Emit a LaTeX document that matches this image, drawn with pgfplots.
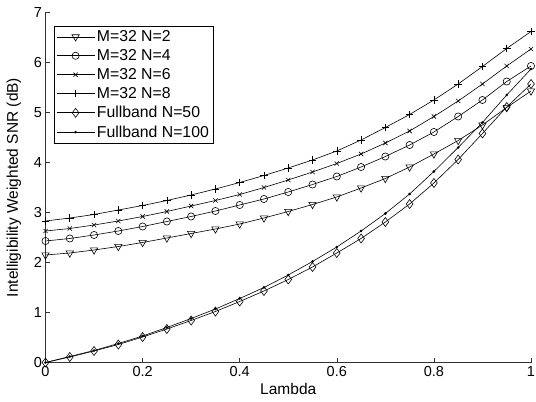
\documentclass[border=0pt]{standalone}
\usepackage{pgfplots}
\pgfplotsset{compat=1.18}
\usepackage{pgfplotstable}
\usepackage{fontspec}
\setmainfont{Liberation Sans}
\pgfplotstableread{
x    a    b    c    d    e    f
0.00 2.15 2.43 2.63 2.83 0.00 0.00
0.05 2.19 2.48 2.68 2.89 0.11 0.12
0.10 2.25 2.55 2.75 2.96 0.23 0.24
0.15 2.32 2.63 2.83 3.05 0.36 0.38
0.20 2.40 2.72 2.92 3.14 0.51 0.53
0.25 2.49 2.82 3.02 3.24 0.67 0.70
0.30 2.58 2.92 3.13 3.35 0.84 0.88
0.35 2.67 3.03 3.24 3.47 1.02 1.07
0.40 2.77 3.15 3.36 3.60 1.22 1.28
0.45 2.89 3.27 3.50 3.74 1.43 1.50
0.50 3.02 3.41 3.65 3.89 1.66 1.75
0.55 3.16 3.56 3.81 4.05 1.91 2.02
0.60 3.31 3.72 3.98 4.23 2.19 2.31
0.65 3.49 3.91 4.17 4.45 2.48 2.63
0.70 3.68 4.12 4.39 4.70 2.81 2.98
0.75 3.91 4.35 4.63 4.96 3.17 3.37
0.80 4.17 4.61 4.92 5.25 3.59 3.82
0.85 4.44 4.92 5.23 5.57 4.06 4.30
0.90 4.75 5.25 5.57 5.92 4.58 4.80
0.95 5.10 5.62 5.93 6.28 5.11 5.35
1.00 5.43 5.93 6.27 6.62 5.57 5.87
}\datatable
\begin{document}
\begin{tikzpicture}
\path[use as bounding box] (-45.5pt,-39.5pt) rectangle (490.5pt,362.5pt);
\begin{axis}[
  at={(0pt,0pt)}, anchor=south west,
  scale only axis, width=485.5pt, height=350pt,
  xmin=0, xmax=1, ymin=0, ymax=7,
  axis lines=left,
  axis line style={-, line width=0.6pt, black!80},
  tick style={line width=0.6pt, black!80},
  tick align=inside, major tick length=5pt,
  xtick={0,0.2,0.4,0.6,0.8,1},
  xticklabels={0,0.2,0.4,0.6,0.8,1},
  ytick={0,1,2,3,4,5,6,7},
  /pgf/number format/assume math mode=true,
  tick label style={font=\fontsize{14.5}{16}\selectfont},
  xlabel={Lambda},
  ylabel={Intelligibility Weighted SNR (dB)},
  label style={font=\fontsize{15.5}{17}\selectfont},
  xlabel style={at={(axis description cs:0.5,-0.076)}, anchor=center},
  ylabel style={at={(axis description cs:-0.065,0.5)}, anchor=center},
  legend style={at={(axis description cs:0.0175,0.962)}, anchor=north west,
    draw=black, line width=0.6pt, font=\fontsize{15.8}{17}\selectfont,
    row sep=2.4pt, inner xsep=2pt, inner ysep=2.5pt, cells={anchor=west}},
  legend image code/.code={\draw[mark repeat=2, mark phase=2, line width=0.6pt] plot coordinates {(0pt,0pt) (19pt,0pt) (38pt,0pt)};},
  every axis plot/.append style={black, line width=0.6pt},
]
\addplot[mark=triangle, mark size=4.2pt, mark options={rotate=180}] table[x=x,y=a]{\datatable};
\addlegendentry{M=32 N=2}
\addplot[mark=o, mark size=3.6pt] table[x=x,y=b]{\datatable};
\addlegendentry{M=32 N=4}
\addplot[mark=x, mark size=3pt] table[x=x,y=c]{\datatable};
\addlegendentry{M=32 N=6}
\addplot[mark=+, mark size=3.8pt] table[x=x,y=d]{\datatable};
\addlegendentry{M=32 N=8}
\addplot[mark=diamond, mark size=4.5pt] table[x=x,y=e]{\datatable};
\addlegendentry{Fullband N=50}
\addplot[mark=*, mark size=1pt] table[x=x,y=f]{\datatable};
\addlegendentry{Fullband N=100}
\end{axis}
\end{tikzpicture}
\end{document}
